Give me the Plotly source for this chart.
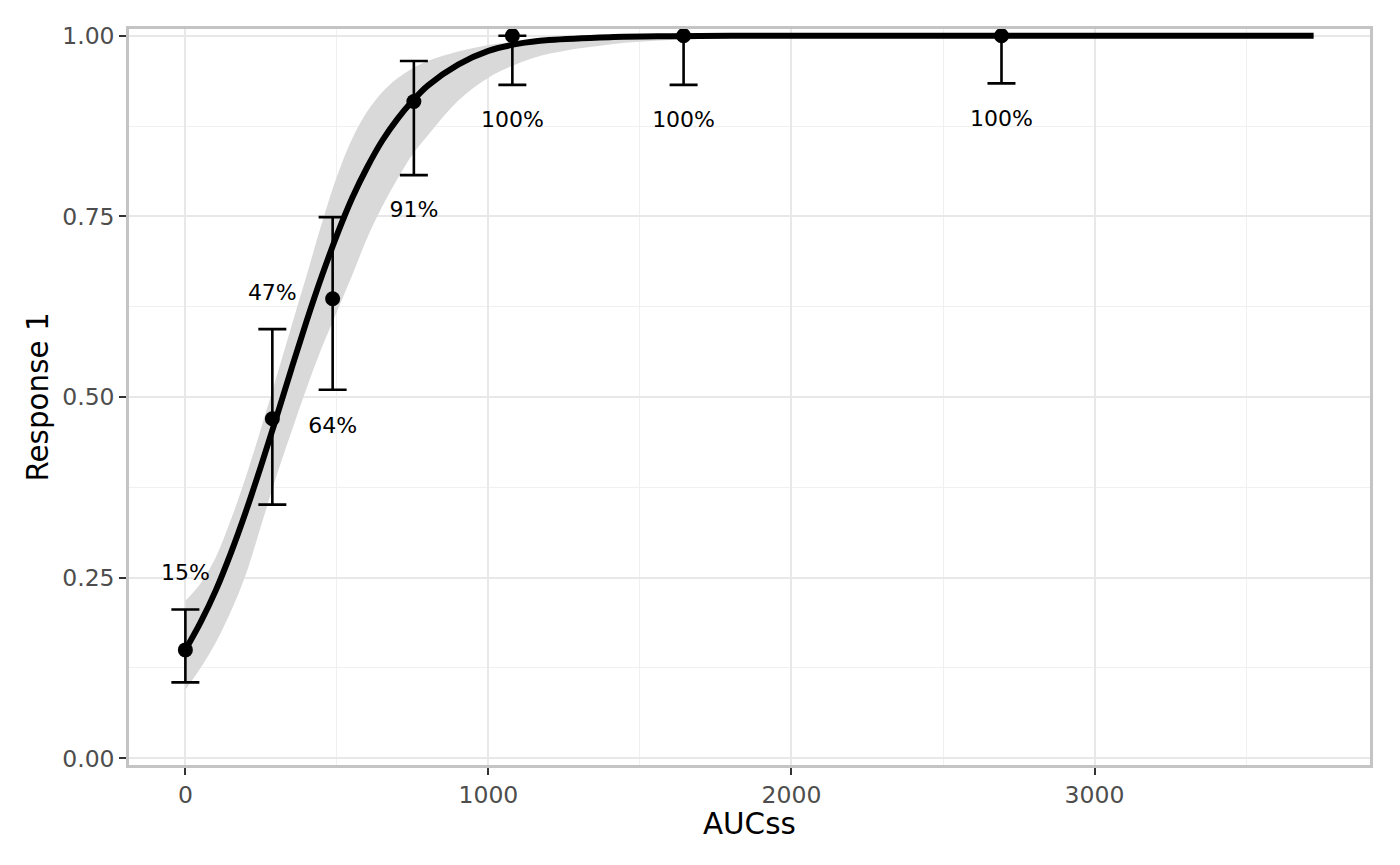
import plotly.graph_objects as go

obs_x = [0, 287, 486, 754, 1079, 1644, 2693]
obs_y = [0.15, 0.47, 0.636, 0.909, 1.0, 1.0, 1.0]
obs_upper = [0.206, 0.594, 0.749, 0.965, 1.0, 1.0, 1.0]
obs_lower = [0.105, 0.351, 0.510, 0.807, 0.932, 0.932, 0.934]
labels = ["15%", "47%", "64%", "91%", "100%", "100%", "100%"]
label_y = [0.255, 0.642, 0.458, 0.757, 0.881, 0.881, 0.883]

# Fitted curve and confidence band
fit_x = [0, 50, 100, 150, 200, 250, 300, 350, 400, 450, 500, 550, 600, 650, 700,
         750, 800, 900, 1000, 1100, 1200, 1400, 1600, 1800, 2000, 2500, 3000, 3723]
fit_y = [0.150, 0.188, 0.232, 0.284, 0.342, 0.405, 0.471, 0.539, 0.605, 0.667, 0.724,
         0.775, 0.818, 0.855, 0.885, 0.910, 0.931, 0.960, 0.979, 0.989, 0.994, 0.998,
         0.9993, 0.9998, 0.9999, 1.0, 1.0, 1.0]
fit_lo = [0.095, 0.125, 0.160, 0.203, 0.255, 0.322, 0.390, 0.452, 0.512, 0.568, 0.618,
          0.668, 0.720, 0.764, 0.802, 0.836, 0.862, 0.910, 0.942, 0.962, 0.975, 0.988,
          0.994, 0.997, 0.999, 1.0, 1.0, 1.0]
fit_hi = [0.218, 0.242, 0.278, 0.330, 0.390, 0.457, 0.527, 0.598, 0.668, 0.740, 0.805,
          0.857, 0.895, 0.922, 0.941, 0.955, 0.965, 0.978, 0.987, 0.992, 0.995, 0.998,
          0.999, 1.0, 1.0, 1.0, 1.0, 1.0]

x_ticks = [0, 1000, 2000, 3000]
y_ticks = [0.0, 0.25, 0.5, 0.75, 1.0]
y_ticktext = ["0.00", "0.25", "0.50", "0.75", "1.00"]

FONT = "DejaVu Sans"

fig = go.Figure()

fig.add_trace(go.Scatter(x=fit_x, y=fit_hi, mode="lines", line=dict(width=0, shape="spline"),
                         hoverinfo="skip", showlegend=False))
fig.add_trace(go.Scatter(x=fit_x, y=fit_lo, mode="lines", line=dict(width=0, shape="spline"),
                         fill="tonexty", fillcolor="#D9D9D9", hoverinfo="skip", showlegend=False))

fig.add_trace(go.Scatter(
    x=obs_x, y=obs_y, mode="markers",
    marker=dict(color="black", size=15),
    error_y=dict(type="data", symmetric=False,
                 array=[u - y for u, y in zip(obs_upper, obs_y)],
                 arrayminus=[y - l for l, y in zip(obs_lower, obs_y)],
                 color="black", thickness=2.6, width=14),
    showlegend=False))

fig.add_trace(go.Scatter(x=fit_x, y=fit_y, mode="lines",
                         line=dict(color="black", width=6, shape="spline"),
                         showlegend=False))

fig.add_trace(go.Scatter(x=obs_x, y=label_y, mode="text", text=labels,
                         textposition="middle center",
                         textfont=dict(family=FONT, size=22, color="black"),
                         showlegend=False))

axis_common = dict(
    showline=True, mirror=True, linecolor="#C4C4C4", linewidth=2.5,
    ticks="outside", ticklen=7, tickwidth=2, tickcolor="#333333",
    showgrid=True, gridcolor="#E8E8E8", gridwidth=2,
    zeroline=False,
    tickfont=dict(family=FONT, size=23.5, color="#4D4D4D"),
)

fig.update_layout(
    width=1400, height=865,
    paper_bgcolor="white", plot_bgcolor="white",
    margin=dict(l=121, r=38, t=21, b=108),
    font=dict(family=FONT),
    xaxis=dict(range=[-186, 3909], tickvals=x_ticks,
               minor=dict(dtick=500, tick0=500, showgrid=True, gridcolor="#F0F0F0",
                          gridwidth=1.2, ticks=""),
               **axis_common),
    yaxis=dict(range=[-0.0093, 1.0093], tickvals=y_ticks, ticktext=y_ticktext,
               minor=dict(dtick=0.125, tick0=0.125, showgrid=True, gridcolor="#F0F0F0",
                          gridwidth=1.2, ticks=""),
               title=dict(text="Response 1", font=dict(family=FONT, size=29.4, color="black"),
                          standoff=5),
               **axis_common),
    annotations=[dict(text="AUCss", xref="paper", yref="paper", x=0.5, y=-0.0795,
                      xanchor="center", yanchor="middle", showarrow=False,
                      font=dict(family=FONT, size=29.4, color="black"))],
)

fig.write_html("out.html")
